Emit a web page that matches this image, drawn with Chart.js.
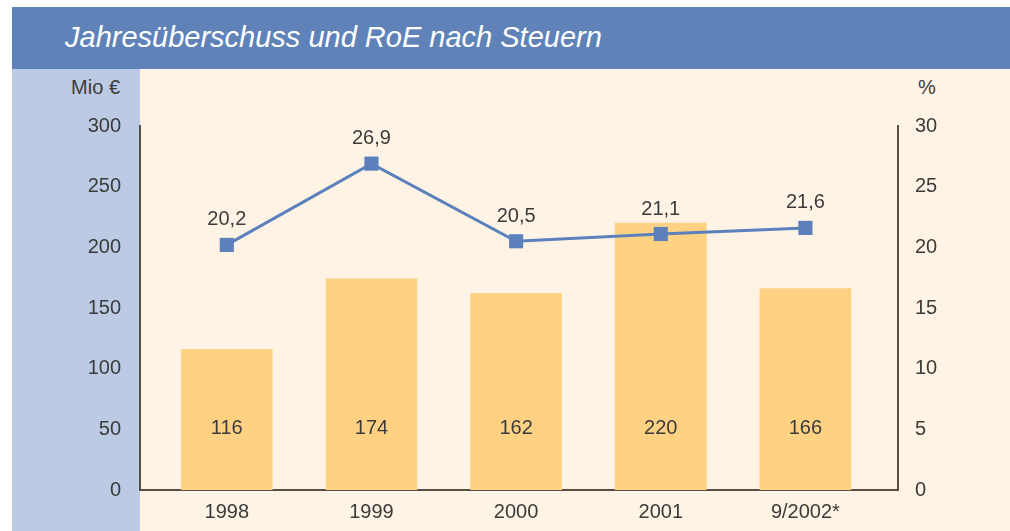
<!DOCTYPE html>
<html>
<head>
<meta charset="utf-8">
<script src="https://cdn.jsdelivr.net/npm/chart.js@4/dist/chart.umd.min.js"></script>
<style>
  body { margin: 0; width: 1010px; height: 531px; background: #fff; position: relative; overflow: hidden; font-family: "Liberation Sans", Arial, sans-serif; }
  #cream { position: absolute; left: 12px; top: 69px; width: 998px; height: 462px; background: #fef3e5; }
  #side { position: absolute; left: 12px; top: 69px; width: 128px; height: 462px; background: #bccae3; }
  #titlebar { position: absolute; left: 12px; top: 7px; width: 998px; height: 62px; background: #5f83b9; }
  #titlebar span { position: absolute; left: 53px; top: 14px; color: #fff; font-size: 29px; font-style: italic; }
  .unit { position: absolute; top: 76px; font-size: 20px; color: #3b3b3b; }
  #chartbox { position: absolute; left: 0; top: 0; width: 1010px; height: 531px; }
</style>
</head>
<body>
<div id="cream"></div>
<div id="side"></div>
<div id="titlebar"><span>Jahresüberschuss und RoE nach Steuern</span></div>
<div class="unit" style="right:890px">Mio €</div>
<div class="unit" style="left:918px">%</div>
<div id="chartbox"><canvas id="chart"></canvas></div>
<script>
const years = ["1998", "1999", "2000", "2001", "9/2002*"];
const profit = [116, 174, 162, 220, 166];   // Mio €
const roe = [20.2, 26.9, 20.5, 21.1, 21.6];  // %

const textColor = "#3b3b3b";
const axisColor = "#574e48";
const fontSpec = { family: '"Liberation Sans", Arial, sans-serif', size: 20 };

const fmt = (v) => String(v).replace(".", ",");

// value labels: bar values near the base, RoE above the markers
const valueLabels = {
  id: "valueLabels",
  afterDatasetsDraw(chart) {
    const ctx = chart.ctx;
    ctx.save();
    ctx.font = `${fontSpec.size}px ${fontSpec.family}`;
    ctx.fillStyle = textColor;
    ctx.textAlign = "center";
    ctx.textBaseline = "middle";
    chart.data.datasets.forEach((ds, i) => {
      const meta = chart.getDatasetMeta(i);
      meta.data.forEach((el, j) => {
        const v = ds.data[j].y;
        if (ds.type === "bar") {
          ctx.fillText(fmt(v), el.x, el.base - 62);
        } else {
          ctx.fillText(fmt(v), el.x, el.y - 25);
        }
      });
    });
    ctx.restore();
  },
};

new Chart(document.getElementById("chart"), {
  data: {
    datasets: [
      {
        type: "line",
        label: "RoE",
        data: roe.map((v, i) => ({ x: i, y: v })),
        yAxisID: "y1",
        borderColor: "#5b80bb",
        borderWidth: 3,
        pointStyle: "rect",
        pointRadius: 10,
        pointBackgroundColor: "#5b80bb",
        pointBorderWidth: 0,
        order: 0,
      },
      {
        type: "bar",
        label: "Jahresüberschuss",
        data: profit.map((v, i) => ({ x: i, y: v })),
        yAxisID: "y",
        backgroundColor: "#fed282",
        barThickness: 91,
        order: 1,
      },
    ],
  },
  options: {
    responsive: true,
    maintainAspectRatio: false,
    animation: false,
    layout: { padding: { top: 126, left: 0, right: 0, bottom: 0 } },
    plugins: { legend: { display: false }, tooltip: { enabled: false } },
    scales: {
      x: {
        type: "linear",
        offset: false,
        min: -0.6,
        max: 4.64,
        afterBuildTicks: (s) => { s.ticks = years.map((_, i) => ({ value: i })); },
        afterFit: (s) => { s.height = 41; },
        grid: { display: false, drawTicks: false },
        border: { display: true, color: axisColor, width: 2 },
        ticks: { callback: (v) => years[v], color: textColor, font: fontSpec, padding: 10, maxRotation: 0, autoSkip: false },
      },
      y: {
        position: "left",
        min: 0,
        max: 300,
        afterFit: (s) => { s.width = 140; },
        grid: { display: false, drawTicks: false },
        border: { display: true, color: axisColor, width: 2 },
        ticks: { stepSize: 50, color: textColor, font: fontSpec, padding: 19 },
      },
      y1: {
        position: "right",
        min: 0,
        max: 30,
        afterFit: (s) => { s.width = 112; },
        grid: { display: false, drawTicks: false },
        border: { display: true, color: axisColor, width: 2 },
        ticks: { stepSize: 5, color: textColor, font: fontSpec, padding: 17 },
      },
    },
  },
  plugins: [valueLabels],
});
</script>
</body>
</html>
